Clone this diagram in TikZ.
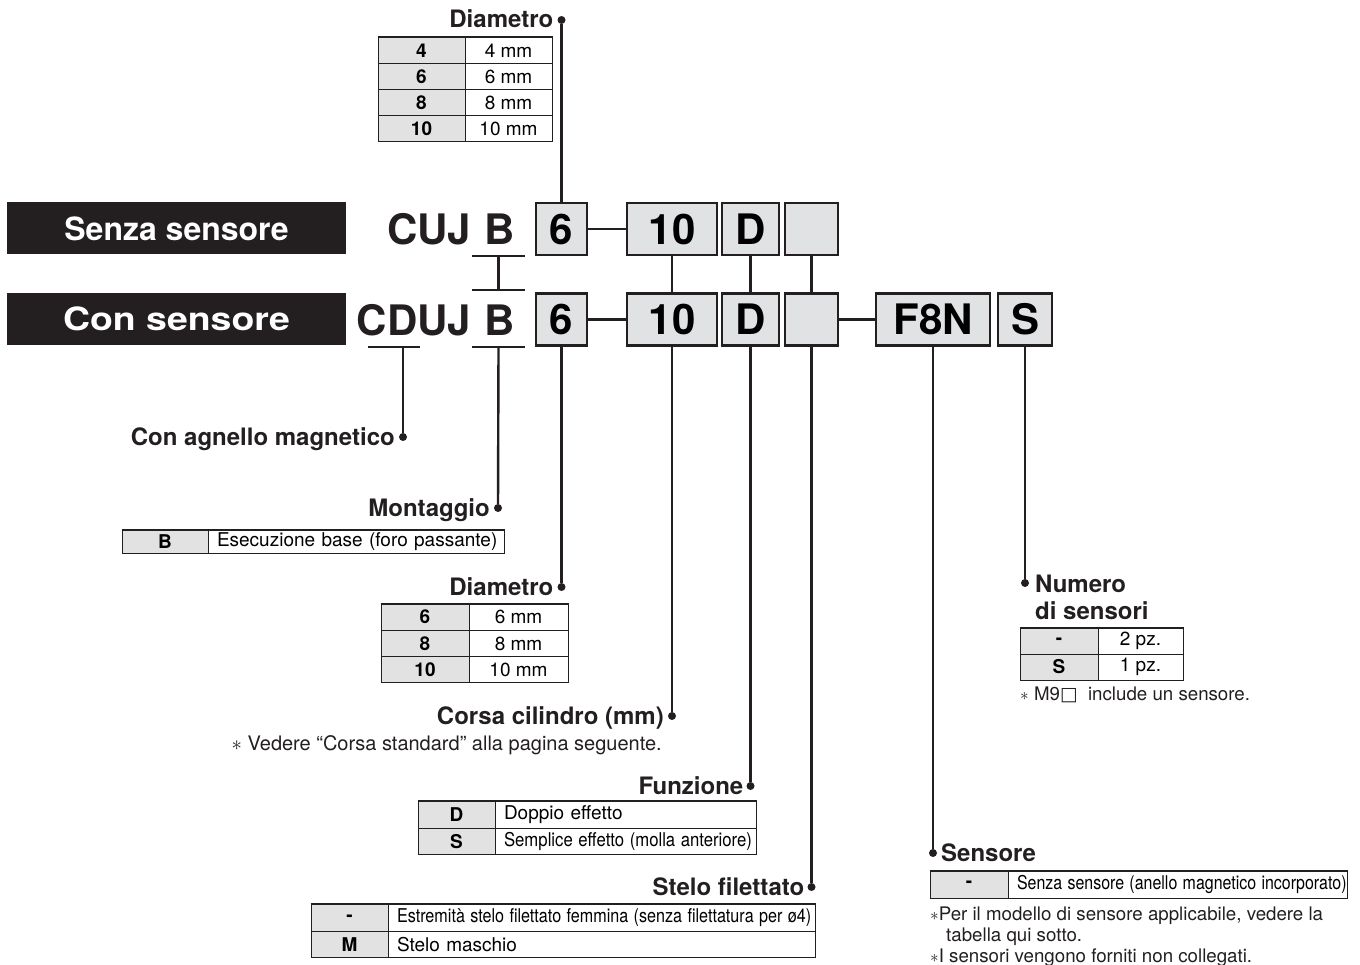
\documentclass[tikz,border=0pt]{standalone}
\usepackage{graphicx}
\usepackage{fontspec}
\setmainfont{TeX Gyre Heros}
\newfontfamily\symfont{DejaVu Sans}
\usepackage{tikz}
\usepackage{xcolor}

\definecolor{boxgray}{HTML}{E1E2E4}
\definecolor{cellgray}{HTML}{E2E2E2}
\definecolor{ink}{HTML}{231F20}

\begin{document}
\begin{tikzpicture}[
    x=1pt, y=-1pt,
    bar/.style={
        rectangle,
        fill=ink,
        minimum width=339,
        minimum height=52,
        inner sep=0,
        text=white,
        font=\fontsize{32}{38}\selectfont\bfseries
    },
    codebox/.style={
        rectangle,
        draw=ink,
        fill=boxgray,
        line width=2.2pt,
        minimum height=52,
        inner sep=0,
        font=\fontsize{42}{48}\selectfont\bfseries
    },
    code/.style={
        inner sep=0,
        text=ink,
        font=\fontsize{42}{48}\selectfont\bfseries
    },
    lbl/.style={
        inner sep=0,
        text=ink,
        font=\fontsize{24}{27}\selectfont\bfseries
    },
    dot/.style={circle, fill=ink, inner sep=0, minimum size=8},
    kcell/.style={
        rectangle,
        draw=ink,
        fill=cellgray,
        line width=1pt,
        inner sep=0,
        font=\fontsize{19}{22}\selectfont\bfseries
    },
    vcell/.style={
        rectangle,
        draw=ink,
        fill=white,
        line width=1pt,
        inner sep=0,
        font=\fontsize{19}{22}\selectfont
    },
    lcell/.style={vcell, inner xsep=9, align=left, text width=#1-18},
    note/.style={inner sep=0, anchor=base west, text=ink, font=\fontsize{18.7}{21}\selectfont},
    conn/.style={draw=ink, line width=2.4pt},
    topline/.style={draw=ink, line width=2pt}
]
\useasboundingbox (0,0) rectangle (1360,965);

% title bars
\node[bar] (senza) at (176.5,228.5) {Senza sensore};
\node[bar] (con) at (176.5,319) {\scalebox{1.17}[1]{Con sensore}};

% codes without sensor
\node[code] (cuj) at (429,229) {CUJ};
\node[code] (ba) at (500,229) {B};
\node[codebox, minimum width=51] (b6a) at (561.5,229) {6};
\node[codebox, minimum width=90] (b10a) at (672,229) {10};
\node[codebox, minimum width=57] (bDa) at (750.5,229) {D};
\node[codebox, minimum width=53] (bEa) at (811.5,229) {};

% codes with sensor
\node[code] (cduj) at (414,320) {CDUJ};
\node[code] (bb) at (500,320) {B};
\node[codebox, minimum width=51] (b6b) at (561.5,319.5) {6};
\node[codebox, minimum width=90] (b10b) at (672,319.5) {10};
\node[codebox, minimum width=57] (bDb) at (750.5,319.5) {D};
\node[codebox, minimum width=53] (bEb) at (811.5,319.5) {};
\node[codebox, minimum width=114] (bF8N) at (933,319.5) {F8N};
\node[codebox, minimum width=54] (bSb) at (1025,319.5) {S};

% dots
\node[dot] (pDia1) at (561.5,20) {};
\node[dot] (pMag) at (403,437) {};
\node[dot] (pMont) at (498,508) {};
\node[dot] (pDia2) at (561.5,587) {};
\node[dot] (pCorsa) at (672,716) {};
\node[dot] (pFun) at (750.5,786) {};
\node[dot] (pStelo) at (811.5,887) {};
\node[dot] (pSens) at (933,853) {};
\node[dot] (pNum) at (1025,583) {};

% underlines
\coordinate (ua) at (498.5,256);
\coordinate (ub) at (498.5,290);
\coordinate (uc) at (498.5,347);
\coordinate (ud) at (394,347);
\draw[conn] ([xshift=-26.5pt]ua) -- ([xshift=26.5pt]ua);
\draw[conn] ([xshift=-26.5pt]ub) -- ([xshift=26.5pt]ub);
\draw[conn] ([xshift=-26.5pt]uc) -- ([xshift=26.5pt]uc);
\draw[conn] ([xshift=-26pt]ud) -- ([xshift=26pt]ud);

% connectors
\draw[conn] (ua) -- (ub);
\draw[conn] (uc) -- (pMont);
\draw[conn] (ud -| pMag) -- (pMag);
\draw[conn] (b6a.north) -- (pDia1);
\draw[conn] (b6a.east) -- (b10a.west);
\draw[conn] (b6b.east) -- (b10b.west);
\draw[conn] (bEb.east) -- (bF8N.west);
\draw[conn] (b10a.south) -- (b10b.north);
\draw[conn] (bDa.south) -- (bDb.north);
\draw[conn] (bEa.south) -- (bEb.north);
\draw[conn] (b6b.south) -- (pDia2);
\draw[conn] (b10b.south) -- (pCorsa);
\draw[conn] (bDb.south) -- (pFun);
\draw[conn] (bEb.south) -- (pStelo);
\draw[conn] (bF8N.south) -- (pSens);
\draw[conn] (bSb.south) -- (pNum);

% labels
\node[lbl, anchor=base east] (lDia1) at ([xshift=-8pt,yshift=-8pt]pDia1) {Diametro};
\node[lbl, anchor=base east] (lMag) at ([xshift=-8pt,yshift=-8pt]pMag) {Con agnello magnetico};
\node[lbl, anchor=base east] (lMont) at ([xshift=-8pt,yshift=-8pt]pMont) {Montaggio};
\node[lbl, anchor=base east] (lDia2) at ([xshift=-8pt,yshift=-8pt]pDia2) {Diametro};
\node[lbl, anchor=base east] (lCorsa) at ([xshift=-8pt,yshift=-8pt]pCorsa) {Corsa cilindro (mm)};
\node[lbl, anchor=base east] (lFun) at ([xshift=-7pt,yshift=-8pt]pFun) {Funzione};
\node[lbl, anchor=base east] (lStelo) at ([xshift=-7pt,yshift=-8pt]pStelo) {Stelo filettato};
\node[lbl, anchor=base west] (lSens) at ([xshift=8pt,yshift=-8pt]pSens) {Sensore};
\node[lbl, anchor=base west, align=left] (lNum) at (1035,619) {Numero\\di sensori};

% table diametro (senza sensore)
\foreach \v [count=\i] in {4,6,8,10} {
  \node[kcell, minimum width=87, minimum height=26] (tka\i) at (421.5,{25+26*\i}) {\v};
  \node[vcell, minimum width=87, minimum height=26] (tva\i) at (508.5,{25+26*\i}) {\v\ mm};
}
\draw[topline] (tka1.north west) -- (tva1.north east);

% table montaggio
\node[kcell, minimum width=86, minimum height=23] (tmk) at (165,541.5) {B};
\node[lcell=296, minimum height=23] (tmv) at (356,541.5) {\mbox{Esecuzione base (foro passante)}};
\draw[topline] (tmk.north west) -- (tmv.north east);

% table diametro (con sensore)
\foreach \v [count=\i] in {6,8,10} {
  \node[kcell, minimum width=88, minimum height=26.3] (tkb\i) at (425,{590.85+26.3*\i}) {\v};
  \node[vcell, minimum width=99, minimum height=26.3] (tvb\i) at (518.5,{590.85+26.3*\i}) {\v\ mm};
}
\draw[topline] (tkb1.north west) -- (tvb1.north east);

\node[note, anchor=base east, font=\fontsize{20}{23}\selectfont] (nCorsa) at (662,750) {$\ast$ Vedere “Corsa standard” alla pagina seguente.};

% table funzione
\node[kcell, minimum width=77, minimum height=26.5] (tfk1) at (456.5,815) {D};
\node[lcell=261, minimum height=26.5] (tfv1) at (625.5,815) {\mbox{Doppio effetto}};
\node[kcell, minimum width=77, minimum height=26.5] (tfk2) at (456.5,841.5) {S};
\node[lcell=261, minimum height=26.5] (tfv2) at (625.5,841.5) {\scalebox{0.88}[1]{Semplice effetto (molla anteriore)}};
\draw[topline] (tfk1.north west) -- (tfv1.north east);

% table stelo filettato
\node[kcell, minimum width=77, minimum height=26.5] (tsk1) at (349.5,918) {-};
\node[lcell=427, minimum height=26.5] (tsv1) at (601.5,918) {\scalebox{0.85}[1]{Estremità stelo filettato femmina (senza filettatura per ø4)}};
\node[kcell, minimum width=77, minimum height=26.5] (tsk2) at (349.5,944.5) {M};
\node[lcell=427, minimum height=26.5] (tsv2) at (601.5,944.5) {\mbox{Stelo maschio}};
\draw[topline] (tsk1.north west) -- (tsv1.north east);

% table numero di sensori
\node[kcell, minimum width=78, minimum height=26] (tnk1) at (1059,641) {-};
\node[vcell, minimum width=85, minimum height=26] (tnv1) at (1140.5,641) {2 pz.};
\node[kcell, minimum width=78, minimum height=26] (tnk2) at (1059,667) {S};
\node[vcell, minimum width=85, minimum height=26] (tnv2) at (1140.5,667) {1 pz.};
\draw[topline] (tnk1.north west) -- (tnv1.north east);
\node[note] (nNum) at (1020,700) {$\ast$ M9{\symfont □}\ \ include un sensore.};

% table sensore
\node[kcell, minimum width=78, minimum height=27] (tek) at (969,884.5) {-};
\node[lcell=339, minimum height=27] (tev) at (1177.5,884.5) {\scalebox{0.84}[1]{Senza sensore (anello magnetico incorporato)}};
\draw[topline] (tek.north west) -- (tev.north east);
\node[note] (nSens1) at (930,920) {$\ast$Per il modello di sensore applicabile, vedere la};
\node[note] (nSens2) at (946,941) {tabella qui sotto.};
\node[note] (nSens3) at (930,962) {$\ast$I sensori vengono forniti non collegati.};

\end{tikzpicture}
\end{document}
